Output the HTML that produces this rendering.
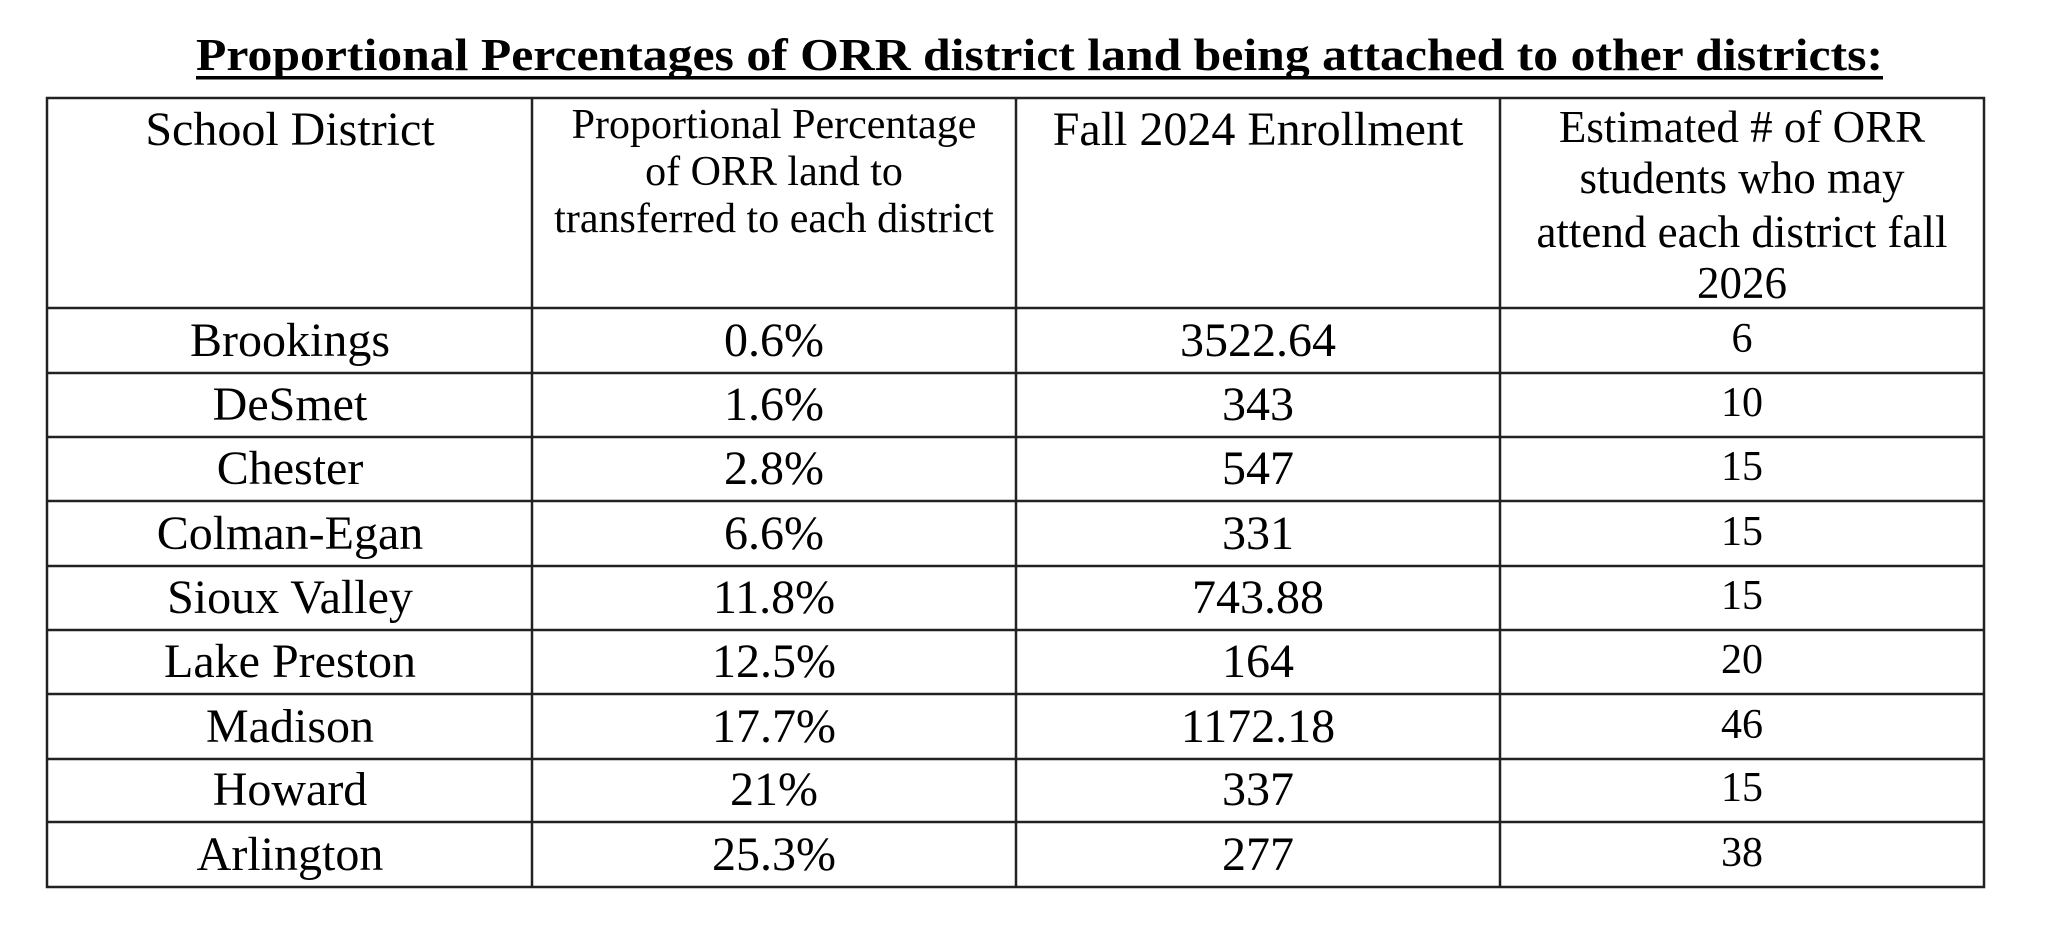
<!DOCTYPE html>
<html><head><meta charset="utf-8"><style>
html,body{margin:0;padding:0;background:#fff;}
svg{display:block;}
text{font-family:"Liberation Serif",serif;fill:#000;}
</style></head><body>
<svg width="2050" height="926" viewBox="0 0 2050 926" xmlns="http://www.w3.org/2000/svg">
<text x="196" y="70" font-size="46" font-weight="bold" textLength="1687" lengthAdjust="spacingAndGlyphs">Proportional Percentages of ORR district land being attached to other districts:</text>
<rect x="196" y="76" width="1687" height="3.5" fill="#000"/>
<g stroke="#222" stroke-width="2.5" fill="none">
<rect x="47" y="98" width="1937" height="789"/>
<line x1="532" y1="98" x2="532" y2="887"/>
<line x1="1016" y1="98" x2="1016" y2="887"/>
<line x1="1500" y1="98" x2="1500" y2="887"/>
<line x1="47" y1="308" x2="1984" y2="308"/>
<line x1="47" y1="373" x2="1984" y2="373"/>
<line x1="47" y1="437" x2="1984" y2="437"/>
<line x1="47" y1="501" x2="1984" y2="501"/>
<line x1="47" y1="566" x2="1984" y2="566"/>
<line x1="47" y1="630" x2="1984" y2="630"/>
<line x1="47" y1="694" x2="1984" y2="694"/>
<line x1="47" y1="759" x2="1984" y2="759"/>
<line x1="47" y1="822" x2="1984" y2="822"/>
</g>
<g text-anchor="middle">
<text x="290" y="145" font-size="48">School District</text>
<text x="774" y="138" font-size="42">Proportional Percentage</text>
<text x="774" y="185" font-size="42">of ORR land to</text>
<text x="774" y="232" font-size="42">transferred to each district</text>
<text x="1258" y="145" font-size="48">Fall 2024 Enrollment</text>
<text x="1742" y="142" font-size="45">Estimated # of ORR</text>
<text x="1742" y="193" font-size="45">students who may</text>
<text x="1742" y="247" font-size="45">attend each district fall</text>
<text x="1742" y="298" font-size="45">2026</text>
</g>
<g text-anchor="middle" font-size="48">
<text x="290" y="356">Brookings</text><text x="774" y="356">0.6%</text><text x="1258" y="356">3522.64</text>
<text x="290" y="420">DeSmet</text><text x="774" y="420">1.6%</text><text x="1258" y="420">343</text>
<text x="290" y="484">Chester</text><text x="774" y="484">2.8%</text><text x="1258" y="484">547</text>
<text x="290" y="549">Colman-Egan</text><text x="774" y="549">6.6%</text><text x="1258" y="549">331</text>
<text x="290" y="613">Sioux Valley</text><text x="774" y="613">11.8%</text><text x="1258" y="613">743.88</text>
<text x="290" y="677">Lake Preston</text><text x="774" y="677">12.5%</text><text x="1258" y="677">164</text>
<text x="290" y="742">Madison</text><text x="774" y="742">17.7%</text><text x="1258" y="742">1172.18</text>
<text x="290" y="805">Howard</text><text x="774" y="805">21%</text><text x="1258" y="805">337</text>
<text x="290" y="870">Arlington</text><text x="774" y="870">25.3%</text><text x="1258" y="870">277</text>
</g>
<g text-anchor="middle" font-size="42">
<text x="1742" y="352">6</text>
<text x="1742" y="416">10</text>
<text x="1742" y="480">15</text>
<text x="1742" y="545">15</text>
<text x="1742" y="609">15</text>
<text x="1742" y="673">20</text>
<text x="1742" y="738">46</text>
<text x="1742" y="801">15</text>
<text x="1742" y="866">38</text>
</g>
</svg>
</body></html>
